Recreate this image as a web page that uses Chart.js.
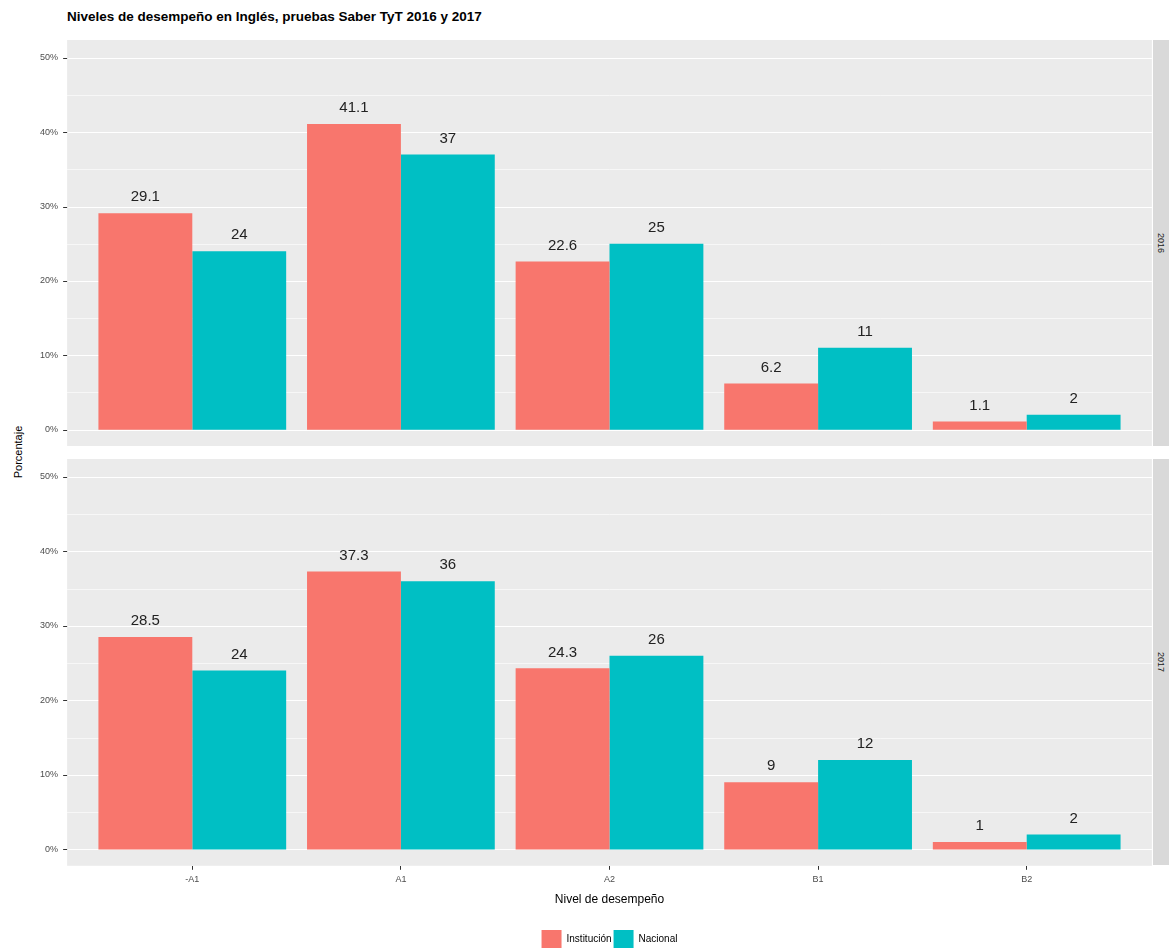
<!DOCTYPE html>
<html>
<head>
<meta charset="utf-8">
<script src="https://cdn.jsdelivr.net/npm/chart.js@4.4.0/dist/chart.umd.min.js"></script>
<style>
  body { margin: 0; background: #fff; font-family: "Liberation Sans", Arial, sans-serif; }
  #page { position: relative; width: 1169px; height: 951px; overflow: hidden; }
  .abs { position: absolute; }
  #title { left: 67px; top: 9px; font-size: 13.5px; font-weight: bold; color: #000; white-space: nowrap; }
  #ytitle { left: 18px; top: 452px; font-size: 11px; color: #000; transform: translate(-50%, -50%) rotate(-90deg); white-space: nowrap; }
  .strip { left: 1153px; width: 18px; height: 406px; background: #d9d9d9; }
  .strip span { position: absolute; left: 8px; top: 50%; transform: translate(-50%, -50%) rotate(90deg); font-size: 9px; color: #1a1a1a; }
</style>
</head>
<body>
<div id="page">
  <div id="title" class="abs">Niveles de desempeño en Inglés, pruebas Saber TyT 2016 y 2017</div>
  <div id="ytitle" class="abs">Porcentaje</div>
  <div class="abs" style="left:0;top:0;"><canvas id="chart2016" width="1153" height="450"></canvas></div>
  <div class="abs" style="left:0;top:450px;"><canvas id="chart2017" width="1153" height="501"></canvas></div>
  <div class="abs strip" style="top:40px;"><span>2016</span></div>
  <div class="abs strip" style="top:459px;"><span>2017</span></div>
</div>
<script>
const niveles = ["-A1", "A1", "A2", "B1", "B2"];
const institucion2016 = [29.1, 41.1, 22.6, 6.2, 1.1];
const nacional2016 = [24, 37, 25, 11, 2];
const institucion2017 = [28.5, 37.3, 24.3, 9, 1];
const nacional2017 = [24, 36, 26, 12, 2];
const yTicks = [0, 10, 20, 30, 40, 50];
const yMinor = [5, 15, 25, 35, 45];

const colInst = "#F8766D";
const colNac = "#00BFC4";

// grey ggplot panel, a bit wider than the chart area (ggplot's 0.6 category expansion)
const panelBg = {
  id: "panelBg",
  beforeDraw(chart) {
    const ctx = chart.ctx;
    const a = chart.chartArea;
    const y = chart.scales.y;
    const ext = (a.right - a.left) / niveles.length * 0.1;
    const left = a.left - ext, right = a.right + ext;
    ctx.save();
    ctx.fillStyle = "#EBEBEB";
    ctx.fillRect(left, a.top, right - left, a.bottom - a.top);
    ctx.strokeStyle = "#ffffff";
    yMinor.forEach((v) => {
      const py = Math.round(y.getPixelForValue(v)) + 0.5;
      ctx.lineWidth = 0.6;
      ctx.beginPath(); ctx.moveTo(left, py); ctx.lineTo(right, py); ctx.stroke();
    });
    yTicks.forEach((v) => {
      const py = Math.round(y.getPixelForValue(v)) + 0.5;
      ctx.lineWidth = 1.2;
      ctx.strokeStyle = "#ffffff";
      ctx.beginPath(); ctx.moveTo(left, py); ctx.lineTo(right, py); ctx.stroke();
      ctx.strokeStyle = "#333333";
      ctx.lineWidth = 1;
      ctx.beginPath(); ctx.moveTo(left - 4, py); ctx.lineTo(left, py); ctx.stroke();
    });
    ctx.restore();
  },
};

// value labels above the bars
const barLabels = {
  id: "barLabels",
  afterDatasetsDraw(chart) {
    const ctx = chart.ctx;
    ctx.save();
    ctx.font = "15px 'Liberation Sans', Arial, sans-serif";
    ctx.fillStyle = "#222222";
    ctx.textAlign = "center";
    ctx.textBaseline = "middle";
    chart.data.datasets.forEach((ds, i) => {
      chart.getDatasetMeta(i).data.forEach((bar, j) => {
        ctx.fillText(String(ds.data[j]), bar.x, bar.y - 16);
      });
    });
    ctx.restore();
  },
};

function makeChart(id, inst, nac, bottom) {
  const ctx = document.getElementById(id);
  return new Chart(ctx, {
    type: "bar",
    data: {
      labels: niveles,
      datasets: [
        { label: "Institución", data: inst, backgroundColor: colInst, borderWidth: 0 },
        { label: "Nacional", data: nac, backgroundColor: colNac, borderWidth: 0 },
      ],
    },
    options: {
      responsive: false,
      animation: false,
      categoryPercentage: 0.9,
      barPercentage: 1.0,
      layout: {
        padding: bottom
          ? { top: 9, bottom: -7, left: 0, right: 22 }
          : { top: 40, bottom: 4, left: 0, right: 22 },
      },
      plugins: {
        tooltip: { enabled: false },
        legend: {
          display: bottom,
          position: "bottom",
          fullSize: false,
          labels: {
            boxWidth: 20,
            boxHeight: 18,
            padding: 2,
            color: "#000",
            font: { family: "'Liberation Sans', Arial, sans-serif", size: 10 },
          },
        },
      },
      scales: {
        x: {
          display: bottom,
          grid: { display: true, drawOnChartArea: false, drawTicks: true, tickLength: 4, color: "#333", offset: false },
          border: { display: false },
          ticks: { color: "#4D4D4D", padding: 4, font: { family: "'Liberation Sans', Arial, sans-serif", size: 9 } },
          title: {
            display: true,
            text: "Nivel de desempeño",
            color: "#000",
            padding: { top: 4, bottom: 21 },
            font: { family: "'Liberation Sans', Arial, sans-serif", size: 12 },
          },
        },
        y: {
          min: -2.2,
          max: 52.4,
          afterFit(s) { s.width = 88; s.paddingTop = 0; s.paddingBottom = 0; },
          afterBuildTicks(s) { s.ticks = yTicks.map((v) => ({ value: v })); },
          grid: { display: false, drawTicks: false },
          border: { display: false },
          ticks: {
            color: "#4D4D4D",
            padding: 30,
            font: { family: "'Liberation Sans', Arial, sans-serif", size: 9 },
            callback: (v) => v + "%",
          },
        },
      },
    },
    plugins: [panelBg, barLabels],
  });
}

const c2016 = makeChart("chart2016", institucion2016, nacional2016, false);
const c2017 = makeChart("chart2017", institucion2017, nacional2017, true);
</script>
</body>
</html>
